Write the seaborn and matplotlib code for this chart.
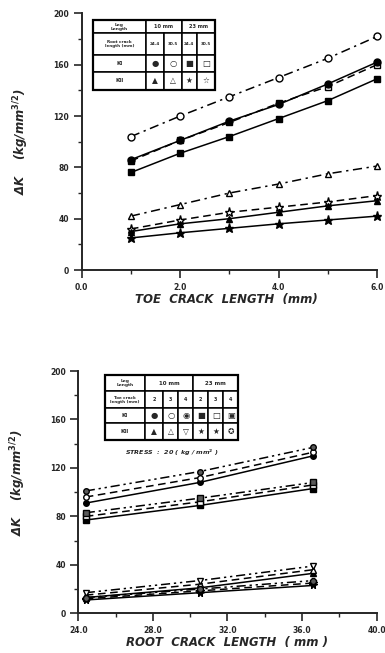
import matplotlib
matplotlib.use("Agg")
import matplotlib.pyplot as plt
from matplotlib.patches import Rectangle
from matplotlib.ticker import MultipleLocator
import seaborn as sns

# ---- toe crack study (upper panel) ----
toe_crack = [1, 2, 3, 4, 5, 6]
k1_leg10_root244 = [86, 101, 116, 129, 145, 162]
k1_leg10_root305 = [104, 120, 135, 150, 165, 182]
k1_leg23_root244 = [76, 91, 104, 118, 132, 149]
k1_leg23_root305 = [85, 101, 115, 130, 143, 160]
k2_leg10_root244 = [30, 36, 40, 45, 50, 54]
k2_leg10_root305 = [42, 51, 60, 67, 75, 81]
k2_leg23_root244 = [25, 29, 32.5, 36, 39, 42]
k2_leg23_root305 = [32, 39, 45, 49, 53, 58]

# ---- root crack study (lower panel) ----
root_crack = [24.4, 30.5, 36.6]
k1_leg10_toe2 = [91, 108, 130]
k1_leg10_toe3 = [96, 112, 133]
k1_leg10_toe4 = [101, 117, 137]
k1_leg23_toe2 = [77, 89, 103]
k1_leg23_toe3 = [80, 92, 106]
k1_leg23_toe4 = [83, 95, 108]
k2_leg10_toe2 = [13, 21, 33]
k2_leg10_toe3 = [15, 24, 36]
k2_leg10_toe4 = [17, 27, 39]
k2_leg23_toe2 = [11, 17, 23]
k2_leg23_toe3 = [12, 18.5, 25]
k2_leg23_toe4 = [13, 20, 27]

sns.set_style("ticks")
plt.rcParams["font.family"] = ["DejaVu Sans"]
plt.rcParams["font.weight"] = "bold"

fig = plt.figure(figsize=(3.85, 6.53), dpi=100)
ax1 = fig.add_axes([0.2122, 0.5865, 0.767, 0.393])
ax2 = fig.add_axes([0.2034, 0.0608, 0.775, 0.371])

DASH = (0, (5, 3))
DASHDOT = (0, (6, 3, 1.5, 3))
DASHDOTDOT = (0, (6, 2.5, 1.5, 2.5, 1.5, 2.5))


def series(ax, x, y, marker, filled, ls, ms=5, face=None):
    fc = face if face is not None else ("black" if filled else "white")
    sns.lineplot(x=x, y=y, ax=ax, color="black", lw=1.1, linestyle=ls,
                 marker=marker, markersize=ms, markerfacecolor=fc,
                 markeredgecolor="black", markeredgewidth=1.0,
                 clip_on=False, zorder=3)


# upper panel curves
series(ax1, toe_crack, k1_leg10_root305, "o", False, DASHDOT)
series(ax1, toe_crack, k1_leg23_root305, "s", False, DASH)
series(ax1, toe_crack, k1_leg10_root244, "o", True, "-")
series(ax1, toe_crack, k1_leg23_root244, "s", True, "-")
series(ax1, toe_crack, k2_leg10_root305, "^", False, DASHDOT)
series(ax1, toe_crack, k2_leg23_root305, "*", False, DASH, ms=6.5)
series(ax1, toe_crack, k2_leg10_root244, "^", True, "-")
series(ax1, toe_crack, k2_leg23_root244, "*", True, "-", ms=6.5)

# lower panel curves
ms2 = 4
series(ax2, root_crack, k1_leg10_toe2, "o", True, "-", ms=ms2)
series(ax2, root_crack, k1_leg10_toe3, "o", False, DASH, ms=ms2)
series(ax2, root_crack, k1_leg10_toe4, "o", True, DASHDOTDOT, ms=ms2, face="0.35")
series(ax2, root_crack, k1_leg23_toe2, "s", True, "-", ms=ms2)
series(ax2, root_crack, k1_leg23_toe3, "s", False, DASH, ms=ms2)
series(ax2, root_crack, k1_leg23_toe4, "s", True, DASHDOTDOT, ms=ms2, face="0.35")
series(ax2, root_crack, k2_leg10_toe2, "^", True, "-", ms=ms2)
series(ax2, root_crack, k2_leg10_toe3, "^", False, DASH, ms=ms2)
series(ax2, root_crack, k2_leg10_toe4, "v", False, DASHDOTDOT, ms=ms2)
series(ax2, root_crack, k2_leg23_toe2, "*", True, "-", ms=5.5)
series(ax2, root_crack, k2_leg23_toe3, "*", True, DASH, ms=5.5)
series(ax2, root_crack, k2_leg23_toe4, "8", True, DASHDOTDOT, ms=ms2, face="0.35")

tick_font = dict(fontsize=5.5, fontweight="bold")
label_font = dict(fontsize=8.5, fontweight="bold", fontstyle="italic")

for ax in (ax1, ax2):
    sns.despine(ax=ax)
    ax.set_ylim(0, 200)
    ax.yaxis.set_major_locator(MultipleLocator(40))
    ax.yaxis.set_minor_locator(MultipleLocator(20))
    ax.tick_params(axis="both", which="major", direction="out", length=6,
                   width=1.2, pad=3)
    ax.tick_params(axis="both", which="minor", direction="out", length=3,
                   width=1.0)
    for sp in ax.spines.values():
        sp.set_linewidth(1.4)
    ax.set_ylabel("ΔK    (kg/mm$^{\\mathbf{3/2}}$)", **label_font)

ax1.set_xlim(0, 6)
ax1.xaxis.set_minor_locator(MultipleLocator(1))
ax1.set_xticks([0, 2, 4, 6])
ax1.set_xticklabels(["0.0", "2.0", "4.0", "6.0"], **tick_font)
ax1.set_yticks([0, 40, 80, 120, 160, 200])
ax1.set_yticklabels(["0", "40", "80", "120", "160", "200"], **tick_font)
ax1.set_xlabel("TOE  CRACK  LENGTH  (mm)", **label_font)
ax1.xaxis.set_label_coords(0.49, -0.088)
ax1.yaxis.set_label_coords(-0.17, 0.5)

ax2.set_xlim(24, 40)
ax2.xaxis.set_minor_locator(MultipleLocator(2))
ax2.set_xticks([24, 28, 32, 36, 40])
ax2.set_xticklabels(["24.0", "28.0", "32.0", "36.0", "40.0"], **tick_font)
ax2.set_yticks([0, 40, 80, 120, 160, 200])
ax2.set_yticklabels(["0", "40", "80", "120", "160", "200"], **tick_font)
ax2.set_xlabel("ROOT  CRACK  LENGTH  ( mm )", **label_font)
ax2.xaxis.set_label_coords(0.5, -0.093)
ax2.yaxis.set_label_coords(-0.17, 0.54)


def key_table(ax, cols, rows, cells):
    """Boxed key drawn in axes fraction; cells = (c0, c1, row, text, size)."""
    for c0, c1, r, text, size in cells:
        x0, x1 = cols[c0], cols[c1]
        y1, y0 = rows[r], rows[r + 1]
        ax.add_patch(Rectangle((x0, y0), x1 - x0, y1 - y0, transform=ax.transAxes,
                               facecolor="white", edgecolor="black", lw=1.1,
                               zorder=5, clip_on=False))
        ax.text((x0 + x1) / 2, (y0 + y1) / 2, text, transform=ax.transAxes,
                ha="center", va="center", fontsize=size, fontweight="bold",
                linespacing=1.0, zorder=6)
    ax.add_patch(Rectangle((cols[0], rows[-1]), cols[-1] - cols[0],
                           rows[0] - rows[-1], transform=ax.transAxes,
                           fill=False, edgecolor="black", lw=1.6, zorder=7,
                           clip_on=False))


top_cols = [0.038, 0.2167, 0.2787, 0.3386, 0.3894, 0.4514]
top_rows = [0.974, 0.922, 0.8375, 0.7725, 0.701]
key_table(ax1, top_cols, top_rows, [
    (0, 1, 0, "Leg\nLength", 3.2), (1, 3, 0, "10 mm", 3.6), (3, 5, 0, "23 mm", 3.6),
    (0, 1, 1, "Root crack\nlength (mm)", 3.0),
    (1, 2, 1, "24.4", 3.0), (2, 3, 1, "30.5", 3.0),
    (3, 4, 1, "24.4", 3.0), (4, 5, 1, "30.5", 3.0),
    (0, 1, 2, "KI", 4.0), (1, 2, 2, "●", 6), (2, 3, 2, "○", 6),
    (3, 4, 2, "■", 6), (4, 5, 2, "□", 6),
    (0, 1, 3, "KII", 4.0), (1, 2, 3, "▲", 5.5), (2, 3, 3, "△", 5.5),
    (3, 4, 3, "★", 5.5), (4, 5, 3, "☆", 5.5),
])

bot_cols = [0.0895, 0.2235, 0.2849, 0.3351, 0.3854, 0.4357, 0.4859, 0.5362]
bot_rows = [0.9847, 0.9162, 0.8473, 0.7854, 0.7165]
key_table(ax2, bot_cols, bot_rows, [
    (0, 1, 0, "Leg\nLength", 3.2), (1, 4, 0, "10 mm", 4.0), (4, 7, 0, "23 mm", 4.0),
    (0, 1, 1, "Toe crack\nlength (mm)", 3.0),
    (1, 2, 1, "2", 3.5), (2, 3, 1, "3", 3.5), (3, 4, 1, "4", 3.5),
    (4, 5, 1, "2", 3.5), (5, 6, 1, "3", 3.5), (6, 7, 1, "4", 3.5),
    (0, 1, 2, "KI", 4.0), (1, 2, 2, "●", 6), (2, 3, 2, "○", 6), (3, 4, 2, "◉", 6),
    (4, 5, 2, "■", 6), (5, 6, 2, "□", 6), (6, 7, 2, "▣", 6),
    (0, 1, 3, "KII", 4.0), (1, 2, 3, "▲", 5.5), (2, 3, 3, "△", 5.5), (3, 4, 3, "▽", 5.5),
    (4, 5, 3, "★", 5.5), (5, 6, 3, "★", 5.5), (6, 7, 3, "✪", 5.5),
])
ax2.text(0.315, 0.662, "STRESS  :  20 ( kg / mm$^{\\mathbf{2}}$ )", transform=ax2.transAxes,
         ha="center", va="center", fontsize=4.6, fontweight="bold",
         fontstyle="italic")

fig.savefig("out.png", dpi=100)
